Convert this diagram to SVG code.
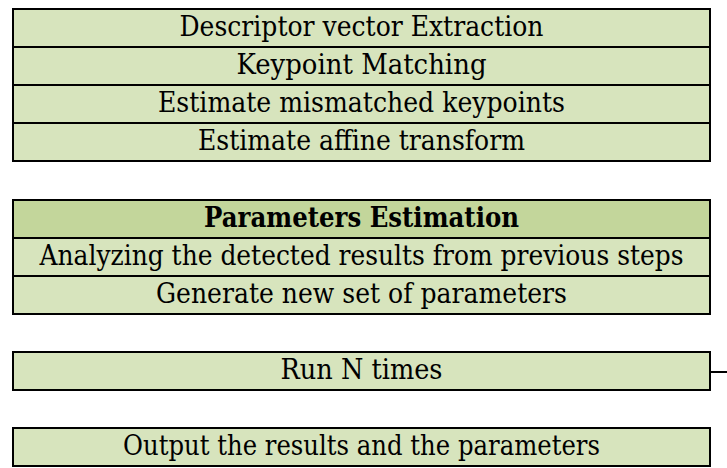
<svg xmlns="http://www.w3.org/2000/svg" width="727" height="468" viewBox="0 0 727 468">
  <style>
    .cell { fill: #d7e4bd; stroke: #000; stroke-width: 2; }
    .head { fill: #c3d69b; stroke: #000; stroke-width: 2; }
    .lbl { font-family: "DejaVu Serif", "Liberation Serif", serif; font-size: 27px; fill: #000; text-anchor: middle; }
    .bold { font-weight: bold; }
    .wire { stroke: #000; stroke-width: 2; fill: none; }
  </style>

  <!-- Feature matching steps -->
  <g id="matching">
    <rect class="cell" x="13" y="9" width="697" height="38"/>
    <text class="lbl" x="361.5" y="36" textLength="364" lengthAdjust="spacingAndGlyphs">Descriptor vector Extraction</text>
    <rect class="cell" x="13" y="47" width="697" height="38"/>
    <text class="lbl" x="361.5" y="74" textLength="250" lengthAdjust="spacingAndGlyphs">Keypoint Matching</text>
    <rect class="cell" x="13" y="85" width="697" height="38"/>
    <text class="lbl" x="361.5" y="112" textLength="407" lengthAdjust="spacingAndGlyphs">Estimate mismatched keypoints</text>
    <rect class="cell" x="13" y="123" width="697" height="38"/>
    <text class="lbl" x="361.5" y="150" textLength="327" lengthAdjust="spacingAndGlyphs">Estimate affine transform</text>
  </g>

  <!-- Parameter estimation block -->
  <g id="estimation">
    <rect class="head" x="13" y="200" width="697" height="38"/>
    <text class="lbl bold" x="361.5" y="227" textLength="315" lengthAdjust="spacingAndGlyphs">Parameters Estimation</text>
    <rect class="cell" x="13" y="238" width="697" height="38"/>
    <text class="lbl" x="361.5" y="265" font-size="26" textLength="644" lengthAdjust="spacingAndGlyphs">Analyzing the detected results from previous steps</text>
    <rect class="cell" x="13" y="276" width="697" height="38"/>
    <text class="lbl" x="361.5" y="303" textLength="411" lengthAdjust="spacingAndGlyphs">Generate new set of parameters</text>
  </g>

  <!-- Loop step -->
  <g id="repeat">
    <rect class="cell" x="13" y="352" width="697" height="38"/>
    <text class="lbl" x="361.5" y="379" textLength="162" lengthAdjust="spacingAndGlyphs">Run N times</text>
  </g>

  <!-- Final output -->
  <g id="output">
    <rect class="cell" x="13" y="428" width="697" height="38"/>
    <text class="lbl" x="361.5" y="455" textLength="477" lengthAdjust="spacingAndGlyphs">Output the results and the parameters</text>
  </g>

  <g id="connectors">
    <line class="wire" x1="710" y1="372" x2="727" y2="372"/>
  </g>
</svg>
